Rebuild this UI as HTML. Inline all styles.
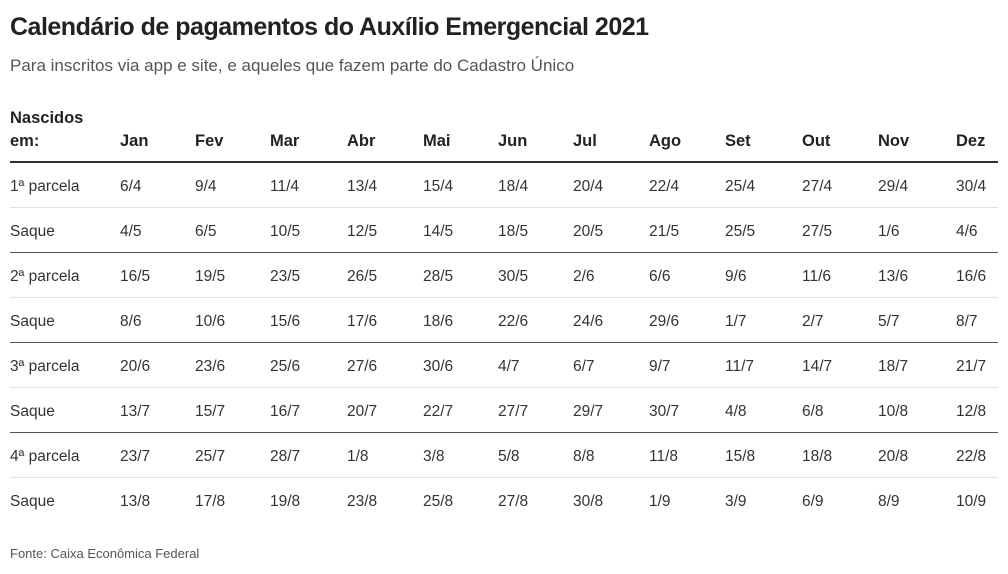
<!DOCTYPE html>
<html><head><meta charset="utf-8"><style>
body{margin:0;width:1008px;height:574px;background:#fff;font-family:"Liberation Sans",sans-serif;color:#333;position:relative;overflow:hidden}
.t{position:absolute;left:10px;top:13px;font-size:25px;font-weight:bold;color:#222;letter-spacing:-0.5px}
.s{position:absolute;left:10px;top:56px;font-size:17px;color:#555}
.f{position:absolute;left:10px;top:546px;font-size:13px;color:#555}
.c{position:absolute;font-size:15.5px;white-space:nowrap}
.h{font-weight:bold;font-size:16.5px;color:#222}
.l{position:absolute;left:10px;width:988px}
</style></head><body>
<div class="t">Calendário de pagamentos do Auxílio Emergencial 2021</div>
<div class="s">Para inscritos via app e site, e aqueles que fazem parte do Cadastro Único</div>
<div class="c h" style="left:10px;top:109px">Nascidos</div>
<div id="g"></div>
<div class="f">Fonte: Caixa Econômica Federal</div>
<script>
var xs=[120,195,270,347,423,498,573,649,725,802,878,956];
var hd=["em:","Jan","Fev","Mar","Abr","Mai","Jun","Jul","Ago","Set","Out","Nov","Dez"];
var rows=[
["1ª parcela","6/4","9/4","11/4","13/4","15/4","18/4","20/4","22/4","25/4","27/4","29/4","30/4"],
["Saque","4/5","6/5","10/5","12/5","14/5","18/5","20/5","21/5","25/5","27/5","1/6","4/6"],
["2ª parcela","16/5","19/5","23/5","26/5","28/5","30/5","2/6","6/6","9/6","11/6","13/6","16/6"],
["Saque","8/6","10/6","15/6","17/6","18/6","22/6","24/6","29/6","1/7","2/7","5/7","8/7"],
["3ª parcela","20/6","23/6","25/6","27/6","30/6","4/7","6/7","9/7","11/7","14/7","18/7","21/7"],
["Saque","13/7","15/7","16/7","20/7","22/7","27/7","29/7","30/7","4/8","6/8","10/8","12/8"],
["4ª parcela","23/7","25/7","28/7","1/8","3/8","5/8","8/8","11/8","15/8","18/8","20/8","22/8"],
["Saque","13/8","17/8","19/8","23/8","25/8","27/8","30/8","1/9","3/9","6/9","8/9","10/9"]];
var h="";
function X(i){return i==0?10:xs[i-1];}
hd.forEach(function(t,i){h+='<div class="c h" style="left:'+X(i)+'px;top:132px">'+t+'</div>';});
h+='<div class="l" style="top:161px;height:2px;background:#333"></div>';
rows.forEach(function(r,j){var y=178+j*45;
r.forEach(function(t,i){h+='<div class="c" style="left:'+X(i)+'px;top:'+y+'px">'+t+'</div>';});
if(j<7){var dark=(j%2==1);h+='<div class="l" style="top:'+(207+j*45)+'px;height:1px;background:'+(dark?'#555':'#e2e2e2')+'"></div>';}
});
document.getElementById('g').innerHTML=h;
</script>
</body></html>
